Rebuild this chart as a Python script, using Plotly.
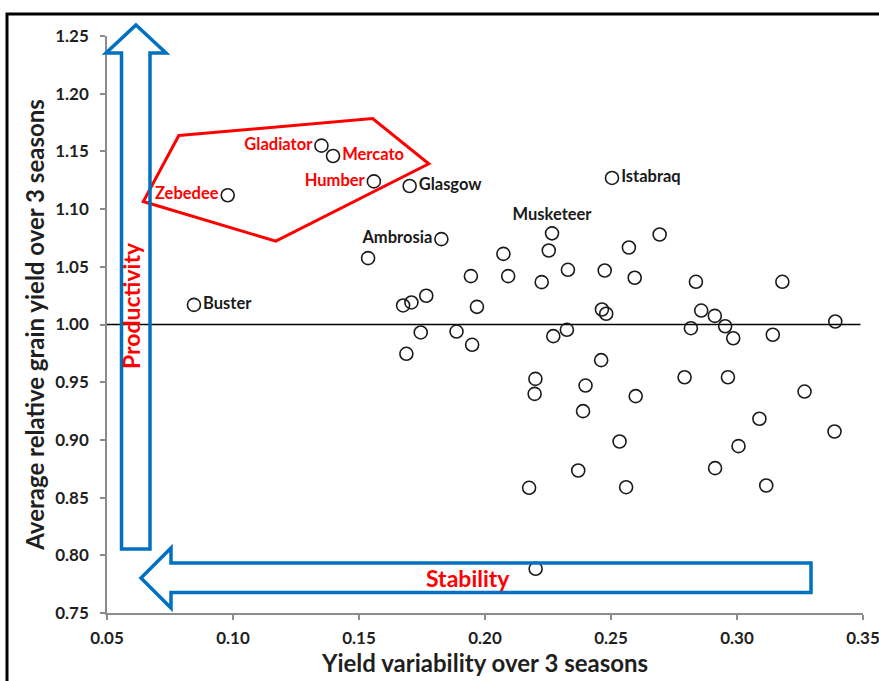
import plotly.graph_objects as go

# ---------------- data ----------------
labeled_names = ["Zebedee", "Gladiator", "Mercato", "Humber",
                 "Glasgow", "Buster", "Ambrosia", "Musketeer", "Istabraq"]
labeled_x = [0.0979, 0.1351, 0.1397, 0.1559, 0.1701, 0.0845, 0.1827, 0.2266, 0.2504]
labeled_y = [1.112, 1.155, 1.146, 1.124, 1.120, 1.017, 1.074, 1.079, 1.127]
labeled_pos = ["middle left", "middle left", "middle right", "middle left",
               "middle right", "middle right", "middle left", "top center", "middle right"]
labeled_col = ["#FF0000", "#FF0000", "#FF0000", "#FF0000",
               "#1a1a1a", "#1a1a1a", "#1a1a1a", "#1a1a1a", "#1a1a1a"]

other_x = [0.1536, 0.2073, 0.2253, 0.1944, 0.2092, 0.2329, 0.2225, 0.2475,
           0.1767, 0.1675, 0.1708, 0.1968, 0.2464, 0.2481, 0.1745, 0.1887,
           0.1949, 0.1688, 0.2271, 0.2325, 0.2461, 0.2200, 0.2197, 0.2399,
           0.2389, 0.2370, 0.2175, 0.2201, 0.2693, 0.2571, 0.2594, 0.2837,
           0.3180, 0.2858, 0.2912, 0.2953, 0.2817, 0.2985, 0.3142, 0.3390,
           0.2792, 0.2964, 0.2598, 0.3268, 0.3089, 0.3387, 0.3006, 0.2534,
           0.2913, 0.2560, 0.3116]
other_y = [1.0575, 1.0612, 1.0641, 1.0419, 1.0419, 1.0474, 1.0367, 1.0468,
           1.0249, 1.0165, 1.0191, 1.0153, 1.0130, 1.0093, 0.9931, 0.9939,
           0.9824, 0.9746, 0.9899, 0.9954, 0.9691, 0.9529, 0.9399, 0.9471,
           0.9249, 0.8735, 0.8585, 0.7883, 1.0780, 1.0667, 1.0405, 1.0370,
           1.0370, 1.0121, 1.0075, 0.9985, 0.9968, 0.9881, 0.9911, 1.0026,
           0.9543, 0.9543, 0.9379, 0.9419, 0.9183, 0.9073, 0.8946, 0.8986,
           0.8755, 0.8590, 0.8605]

x_ticks = [0.05, 0.10, 0.15, 0.20, 0.25, 0.30, 0.35]
y_ticks = [0.75, 0.80, 0.85, 0.90, 0.95, 1.00, 1.05, 1.10, 1.15, 1.20, 1.25]

cluster_x = [0.0785, 0.1554, 0.1777, 0.1170, 0.0644]
cluster_y = [1.1638, 1.1785, 1.1393, 1.0722, 1.1066]

# ---------------- layout geometry ----------------
W, H = 879, 681
ML, MR, MT, MB = 107, 16, 36, 68
PW, PH = W - ML - MR, H - MT - MB

def P(px, py):
    return ((px - ML) / PW, (H - MB - py) / PH)

def path(pts):
    s = ""
    for i, (a, b) in enumerate(pts):
        xp, yp = P(a, b)
        s += ("M" if i == 0 else "L") + f"{xp:.5f},{yp:.5f} "
    return s + "Z"

FONT = "Lato"
BLUE = "#0070C0"
RED = "#FF0000"
TXT = "#1f1f1f"

fig = go.Figure()

fig.add_trace(go.Scatter(
    x=other_x, y=other_y, mode="markers",
    marker=dict(symbol="circle-open", size=13, color="#1a1a1a", line=dict(width=1.6)),
    hoverinfo="x+y", showlegend=False))

for n, x, y, pos, c in zip(labeled_names, labeled_x, labeled_y, labeled_pos, labeled_col):
    fig.add_trace(go.Scatter(
        x=[x], y=[y], mode="markers+text", text=[n], textposition=pos,
        textfont=dict(family=FONT, size=16.5, color=c, weight="bold"),
        marker=dict(symbol="circle-open", size=13, color="#1a1a1a", line=dict(width=1.6)),
        showlegend=False))

shapes = []
shapes.append(dict(type="line", xref="x", yref="y", x0=0.05, x1=0.349, y0=1.0, y1=1.0,
                   line=dict(color="black", width=1.5), layer="below"))
cp = "".join(("M" if i == 0 else "L") + f"{a},{b} " for i, (a, b) in enumerate(zip(cluster_x, cluster_y))) + "Z"
shapes.append(dict(type="path", xref="x", yref="y", path=cp, line=dict(color=RED, width=3)))
shapes.append(dict(type="path", xref="paper", yref="paper",
                   path=path([(136, 25), (166, 53), (150, 53), (150, 549),
                              (121.5, 549), (121.5, 53), (106, 53)]),
                   line=dict(color=BLUE, width=3.5)))
shapes.append(dict(type="path", xref="paper", yref="paper",
                   path=path([(141, 578), (171, 548), (171, 563), (811, 563),
                              (811, 592.5), (171, 592.5), (171, 608)]),
                   line=dict(color=BLUE, width=3.5)))
fx0, fy1 = P(7, 14)
fx1, fy0 = P(890, 695)
shapes.append(dict(type="rect", xref="paper", yref="paper", x0=fx0, x1=fx1, y0=fy0, y1=fy1,
                   line=dict(color="black", width=3)))

annotations = []
ax, ay = P(131, 306)
annotations.append(dict(xref="paper", yref="paper", x=ax, y=ay, text="Productivity",
                        textangle=-90, showarrow=False, xanchor="center", yanchor="middle",
                        font=dict(family=FONT, size=23, color=RED, weight="bold")))
bx, by = P(468, 578)
annotations.append(dict(xref="paper", yref="paper", x=bx, y=by, text="Stability",
                        showarrow=False, xanchor="center", yanchor="middle",
                        font=dict(family=FONT, size=23, color=RED, weight="bold")))

axis_common = dict(showgrid=False, zeroline=False, showline=True, linecolor="#8c8c8c",
                   linewidth=1.5, ticks="outside", ticklen=5, tickcolor="#8c8c8c",
                   tickwidth=1.5, ticklabeloverflow="allow",
                   tickfont=dict(family=FONT, size=17, color=TXT, weight="bold"))

fig.update_layout(
    width=W, height=H,
    margin=dict(l=ML, r=MR, t=MT, b=MB, pad=0),
    paper_bgcolor="white", plot_bgcolor="white",
    shapes=shapes, annotations=annotations,
    xaxis=dict(range=[0.05, 0.35], tickvals=x_ticks, tickformat=".2f",
               ticklabelstandoff=4,
               title=dict(text="Yield variability over 3 seasons", standoff=6,
                          font=dict(family=FONT, size=24, color=TXT, weight="bold")),
               automargin=False, **axis_common),
    yaxis=dict(range=[0.75, 1.25], tickvals=y_ticks, tickformat=".2f",
               ticklabelstandoff=8,
               title=dict(text="Average relative grain yield over 3 seasons", standoff=4,
                          font=dict(family=FONT, size=24, color=TXT, weight="bold")),
               automargin=False, **axis_common),
)

fig.write_html("out.html", config={"displayModeBar": False},
               post_script="document.body.style.margin='0px';document.body.style.overflow='hidden';")
